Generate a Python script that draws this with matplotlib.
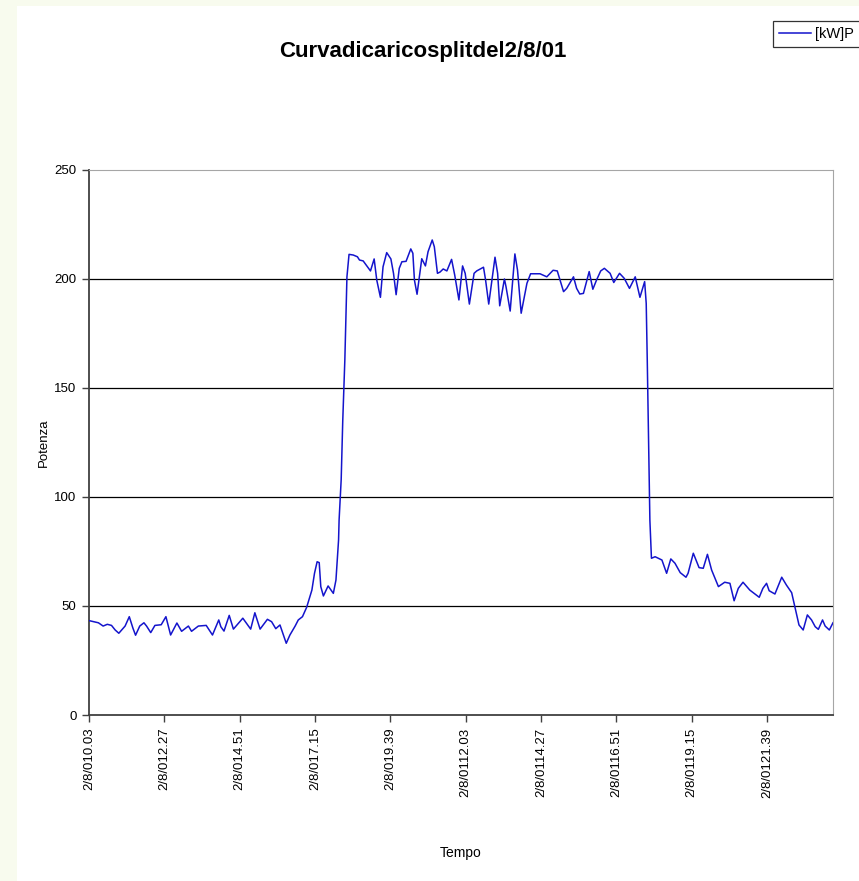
import matplotlib
matplotlib.use("Agg")
import matplotlib.pyplot as plt
from matplotlib.patches import Rectangle

# minutes since midnight and power in kW
minutes = [
    3, 21, 30, 38, 46, 53, 60, 72, 80, 87, 92, 100, 108, 113, 121, 129, 141, 150,
    159, 171, 180, 193, 199, 212, 227, 239, 251, 255, 261, 271, 279, 297, 304, 312,
    320, 330, 344, 352, 360, 368, 380, 387, 397, 403, 411, 419, 429, 434, 439, 443,
    446, 451, 460, 470, 475, 480, 481, 485, 488, 492, 496, 500,
    508, 516, 520, 527, 534, 541, 548, 553, 560, 565, 572, 580, 585, 590, 596, 601,
    609, 618, 622, 625, 630, 639, 646, 651, 659, 663, 669, 674, 680, 687, 696, 702,
    710, 717, 722, 730, 739, 744, 757, 761, 767, 779, 784, 788, 797, 800, 808, 817,
    822, 829, 840, 847, 865, 878, 890, 898, 910, 916, 929, 935, 941, 948, 959, 966,
    973, 981, 988, 999, 1006, 1017, 1026, 1036, 1047, 1056, 1065, 1068, 1070,
    1075, 1076, 1078, 1085, 1098, 1107, 1115, 1123, 1133, 1144, 1148, 1158, 1169,
    1177, 1185, 1193, 1206, 1218, 1228, 1236, 1244, 1253, 1266, 1284, 1291, 1298,
    1303, 1314, 1327, 1336, 1346, 1352, 1360, 1368, 1376, 1384, 1391, 1397, 1405,
    1410, 1418, 1425,
]
power = [
    43.3, 42.3, 40.8, 41.6, 41.1, 39.0, 37.5, 40.8, 45.1, 39.8, 36.6, 40.8, 42.3, 40.8,
    37.8, 41.1, 41.4, 45.1, 36.7, 42.2, 38.4, 40.8, 38.4, 40.8, 41.1, 36.7, 43.6, 40.5,
    38.5, 45.7, 39.4, 44.4, 42.1, 39.4, 46.9, 39.4, 43.9, 42.8, 39.6, 41.3, 32.9, 36.7,
    40.8, 43.6, 45.1, 49.4, 57.3, 65.0, 70.3, 69.9, 58.9, 54.6, 59.2, 55.8, 61.9, 80.3,
    89.4, 108.0, 135.0, 163.0, 201.0, 211.3,
    211.0, 210.2, 208.7, 208.3, 206.0, 203.7, 209.2, 199.5, 191.6, 205.6, 212.1, 209.2,
    202.6, 192.8, 204.9, 207.9, 208.1, 213.8, 211.8, 199.5, 193.0, 209.3, 206.0, 212.5,
    217.9, 214.8, 202.6, 203.2, 204.6, 203.7, 209.0, 201.8, 190.4, 206.0, 202.6, 188.5,
    202.6, 203.7, 205.4, 199.5, 188.5, 210.0, 202.6, 187.7, 200.0, 196.5, 185.3, 211.5,
    204.1, 184.3, 198.0, 202.4, 202.4, 201.0, 204.0, 203.7, 194.2, 195.7, 201.0, 195.7,
    193.1, 193.4, 203.4, 195.3, 199.5, 203.7, 204.9, 202.6, 198.4, 202.6, 200.3, 195.7,
    201.0, 191.6, 198.8, 188.8, 162.8,
    89.4, 83.3, 71.9, 72.6, 71.1, 65.0, 71.6, 69.6, 65.3, 63.2, 65.0, 74.2, 67.6,
    67.3, 73.7, 66.5, 58.9, 60.9, 60.4, 52.4, 58.1, 60.9, 57.3, 54.0, 58.1, 60.4,
    57.0, 55.5, 63.2, 59.6, 56.1, 49.7, 41.3, 39.0, 45.9, 43.6, 40.5, 39.3, 43.6,
    40.8, 39.0, 42.3,
]

tick_minutes = [3, 147, 291, 435, 579, 723, 867, 1011, 1155, 1299]
tick_labels = ["2/8/010.03", "2/8/012.27", "2/8/014.51", "2/8/017.15", "2/8/019.39",
               "2/8/0112.03", "2/8/0114.27", "2/8/0116.51", "2/8/0119.15", "2/8/0121.39"]
y_ticks = [0, 50, 100, 150, 200, 250]

font = "Liberation Sans"

fig = plt.figure(figsize=(8.59, 8.81), dpi=100)
fig.patch.set_facecolor("#f8fbee")
# white chart area behind everything
fig.add_artist(Rectangle((17 / 859, 0), 1, 1 - 6 / 881, transform=fig.transFigure,
                         facecolor="white", edgecolor="none", zorder=-10))

ax = fig.add_axes([89 / 859, 1 - 715 / 881, 744 / 859, 545 / 881], zorder=1)
ax.patch.set_alpha(0)
ax.plot(minutes, power, color="#1414cc", linewidth=1.1, label="[kW]P", zorder=3)

ax.set_xlim(3, 1425)
ax.set_ylim(0, 250)
ax.set_yticks(y_ticks)
ax.set_yticklabels([str(v) for v in y_ticks], fontsize=9.5, family=font)
ax.set_xticks(tick_minutes)
ax.set_xticklabels(tick_labels, rotation=90, fontsize=9.5, family=font,
                   va="top", ha="center")

for v in y_ticks[1:-1]:
    ax.axhline(v, color="black", linewidth=0.9, zorder=1)

ax.tick_params(axis="both", direction="out", length=5, width=1, color="#404040", pad=4)
ax.spines["left"].set_color("#404040")
ax.spines["bottom"].set_color("#404040")
ax.spines["left"].set_linewidth(1.3)
ax.spines["bottom"].set_linewidth(1.3)
ax.spines["top"].set_color("#a6a6a6")
ax.spines["right"].set_color("#a6a6a6")

ax.set_ylabel("Potenza", fontsize=9.5, family=font, labelpad=3)
ax.set_xlabel("Tempo", fontsize=10, family=font, labelpad=35)

fig.text(423 / 859, 1 - 51 / 881, "Curvadicaricosplitdel2/8/01", ha="center", va="center",
         fontsize=16, fontweight="bold", family=font)

leg = fig.legend(loc="upper left", bbox_to_anchor=(773 / 859, 1 - 21 / 881),
                 frameon=True, fancybox=False, handlelength=2.2, handletextpad=0.3,
                 borderpad=0.4, borderaxespad=0, prop={"family": font, "size": 10.5})
leg.get_frame().set_edgecolor("black")
leg.get_frame().set_linewidth(0.9)

fig.savefig("out.png", dpi=100, facecolor=fig.get_facecolor())
